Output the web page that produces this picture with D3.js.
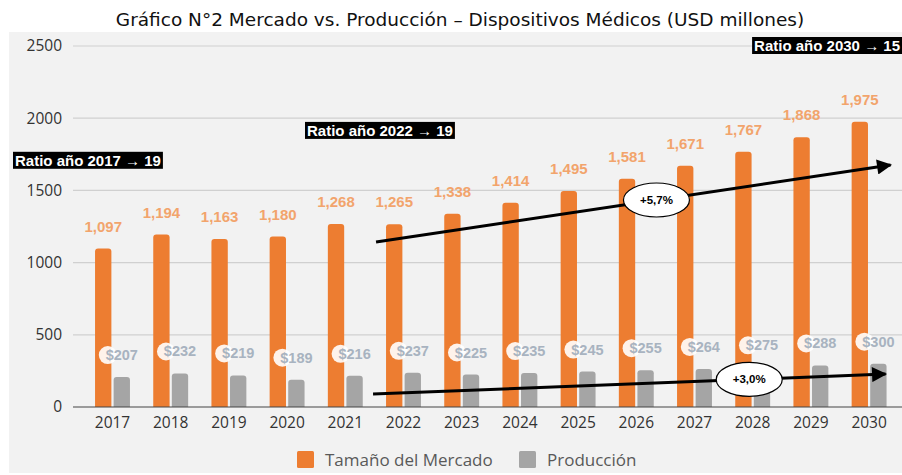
<!DOCTYPE html>
<html>
<head>
<meta charset="utf-8">
<script src="https://cdn.jsdelivr.net/npm/d3@7"></script>
<style>
  body { margin: 0; background: #fff; }
  svg { display: block; }
</style>
</head>
<body>
<svg width="902" height="475"></svg>
<script>
// Data
const years = ["2017", "2018", "2019", "2020", "2021", "2022", "2023", "2024", "2025", "2026", "2027", "2028", "2029", "2030"];
const mercado = [1097, 1194, 1163, 1180, 1268, 1265, 1338, 1414, 1495, 1581, 1671, 1767, 1868, 1975];
const produccion = [207, 232, 219, 189, 216, 237, 225, 235, 245, 255, 264, 275, 288, 300];
const yTicks = [0, 500, 1000, 1500, 2000, 2500];
const seriesNames = ["Tamaño del Mercado", "Producción"];
const ratioNotes = [
  { text: "Ratio año 2017 → 19", value: 1705 },
  { text: "Ratio año 2022 → 19", value: 1912 },
  { text: "Ratio año 2030 → 15", value: 2500 }
];
const trends = [
  { label: "+5,7%", from: ["2022", 1143], to: ["2030", 1676], mid: 0.545 },
  { label: "+3,0%", from: ["2022", 90], to: ["2030", 228], mid: 0.734 }
];

const svg = d3.select("svg");
const orange = "#ED7D31", grey = "#A5A5A5";

// panel background
svg.append("rect").attr("x", 9).attr("y", 32).attr("width", 893).attr("height", 441).attr("fill", "#f2f2f2");

// title
svg.append("text")
  .attr("x", 460).attr("y", 26)
  .attr("text-anchor", "middle")
  .style("font-family", "DejaVu Sans, Verdana, sans-serif")
  .style("font-size", "18.5px")
  .attr("fill", "#111")
  .text("Gráfico N°2 Mercado vs. Producción – Dispositivos Médicos (USD millones)");

// Scales
const x = d3.scaleBand().domain(years).range([83.4, 898.2]).paddingInner(0.4).paddingOuter(0.2);
const xs = d3.scaleBand().domain(seriesNames).range([0, x.bandwidth()]).paddingInner(0.12);
const y = d3.scaleLinear().domain([0, 2500]).range([407, 46]);

// Grid
svg.append("g").selectAll("line").data(yTicks.filter(d => d > 0)).join("line")
  .attr("x1", 73).attr("x2", 902)
  .attr("y1", d => y(d)).attr("y2", d => y(d))
  .attr("stroke", "#d0d0d0").attr("stroke-width", 1.2);

// Y axis labels
const yAxis = svg.append("g").attr("transform", "translate(66,0)")
  .call(d3.axisLeft(y).tickValues(yTicks).tickSize(0).tickPadding(4).tickFormat(d3.format("d")));
yAxis.select(".domain").remove();
yAxis.selectAll("text")
  .style("font-family", "Open Sans, sans-serif").style("font-size", "15.5px").attr("fill", "#333");

// Bars (rounded top)
function barPath(x0, w, yTop, yBase, r) {
  r = Math.min(r, (yBase - yTop));
  return `M${x0},${yBase}V${yTop + r}Q${x0},${yTop} ${x0 + r},${yTop}H${x0 + w - r}Q${x0 + w},${yTop} ${x0 + w},${yTop + r}V${yBase}Z`;
}

const groups = svg.append("g").selectAll("g").data(years).join("g")
  .attr("transform", d => `translate(${x(d)},0)`);

groups.append("path")
  .attr("d", (d, i) => barPath(xs(seriesNames[0]), xs.bandwidth(), y(mercado[i]), y(0), 3))
  .attr("fill", orange);
groups.append("path")
  .attr("d", (d, i) => barPath(xs(seriesNames[1]), xs.bandwidth(), y(produccion[i]), y(0), 3))
  .attr("fill", grey);

// x axis baseline
svg.append("line").attr("x1", 73).attr("x2", 902).attr("y1", y(0)).attr("y2", y(0))
  .attr("stroke", "#444").attr("stroke-width", 1.2);

// X axis labels
const xAxis = svg.append("g").attr("transform", `translate(0,${y(0)})`)
  .call(d3.axisBottom(x).tickSize(0).tickPadding(10));
xAxis.select(".domain").remove();
xAxis.selectAll("text")
  .style("font-family", "Open Sans, sans-serif").style("font-size", "15.5px").attr("fill", "#333");

// value labels - mercado
groups.append("text")
  .attr("x", xs(seriesNames[0]) + xs.bandwidth() / 2)
  .attr("y", (d, i) => y(mercado[i]) - 17)
  .attr("text-anchor", "middle")
  .style("font-family", "Liberation Sans, Arial, sans-serif")
  .style("font-size", "15px").style("font-weight", "bold")
  .attr("fill", "#F2A46C")
  .text((d, i) => d3.format(",")(mercado[i]));

// value labels - produccion
const pl = groups.append("g")
  .attr("transform", (d, i) => `translate(${xs(seriesNames[1]) + xs.bandwidth() / 2},${y(produccion[i]) - 22})`);
pl.append("circle").attr("cx", -14).attr("cy", 0).attr("r", 9).attr("fill", "#fff").attr("opacity", 0.9);
pl.append("text")
  .attr("y", 5)
  .attr("text-anchor", "middle")
  .style("font-family", "Liberation Sans, Arial, sans-serif")
  .style("font-size", "14.5px").style("font-weight", "bold")
  .attr("fill", "#A8B3C0")
  .text((d, i) => "$" + produccion[i]);

// Ratio notes
const noteX = [13, 305, null];
ratioNotes.forEach((n, i) => {
  const g = svg.append("g");
  const t = g.append("text")
    .attr("y", y(n.value) + 5)
    .style("font-family", "Liberation Sans, Arial, sans-serif")
    .style("font-size", "15px").style("font-weight", "bold")
    .attr("fill", "#fff")
    .text(n.text);
  const w = t.node().getBBox().width + 4;
  const xpos = noteX[i] === null ? 902 - w : noteX[i];
  t.attr("x", xpos + 2);
  const bb = t.node().getBBox();
  g.insert("rect", "text")
    .attr("x", xpos).attr("y", bb.y)
    .attr("width", w).attr("height", bb.height)
    .attr("fill", "#000");
});

// Trend arrows
const defs = svg.append("defs");
defs.append("marker").attr("id", "arrow").attr("viewBox", "0 0 10 10")
  .attr("refX", 9).attr("refY", 5).attr("markerWidth", 6.5).attr("markerHeight", 5)
  .attr("orient", "auto").attr("markerUnits", "strokeWidth")
  .append("path").attr("d", "M0,0L10,5L0,10Z").attr("fill", "#000");

trends.forEach((t, k) => {
  const x1 = x(t.from[0]) - (k === 0 ? 10 : 13), y1 = y(t.from[1]);
  const x2 = x(t.to[0]) + x.bandwidth() + (k === 0 ? 4 : -1), y2 = y(t.to[1]);
  svg.append("line").attr("x1", x1).attr("y1", y1).attr("x2", x2).attr("y2", y2)
    .attr("stroke", "#000").attr("stroke-width", 3).attr("marker-end", "url(#arrow)");
  const cx = x1 + (x2 - x1) * t.mid, cy = y1 + (y2 - y1) * t.mid;
  svg.append("ellipse").attr("cx", cx).attr("cy", cy).attr("rx", 33).attr("ry", 17)
    .attr("fill", "#fff").attr("stroke", "#000").attr("stroke-width", 1.2);
  svg.append("text").attr("x", cx).attr("y", cy + 4)
    .attr("text-anchor", "middle")
    .style("font-family", "Liberation Sans, Arial, sans-serif")
    .style("font-size", "11.5px").style("font-weight", "bold")
    .text(t.label);
});

// Legend
const legend = svg.append("g").attr("transform", "translate(297,451)");
const items = legend.selectAll("g").data(seriesNames).join("g")
  .attr("transform", (d, i) => `translate(${i === 0 ? 0 : 222},0)`);
items.append("rect").attr("width", 17).attr("height", 17).attr("rx", 1.5)
  .attr("fill", (d, i) => i === 0 ? orange : grey);
items.append("text").attr("x", 28).attr("y", 15)
  .style("font-family", "Open Sans, sans-serif").style("font-size", "17px")
  .attr("fill", "#595959")
  .text(d => d);
</script>
</body>
</html>
